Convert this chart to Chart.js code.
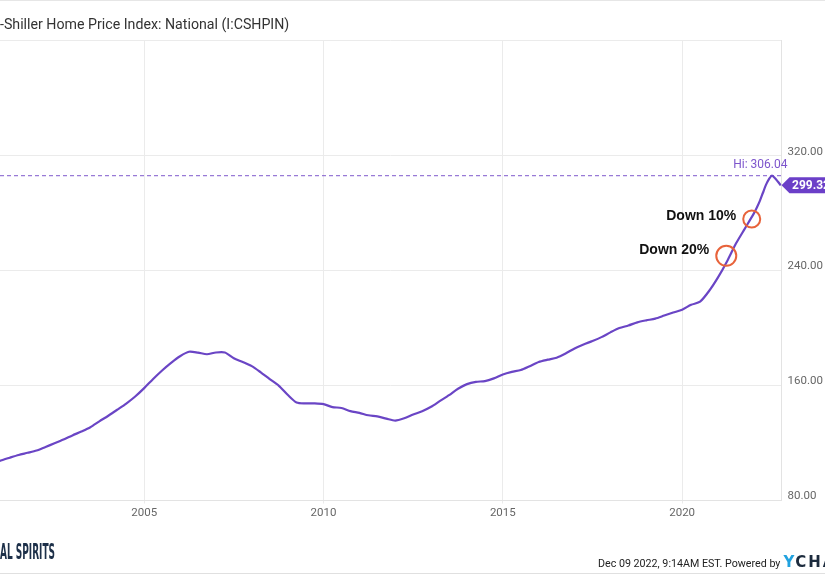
<!DOCTYPE html>
<html><head><meta charset="utf-8">
<script src="https://cdn.jsdelivr.net/npm/chart.js@4.4.0/dist/chart.umd.min.js"></script>
<style>
html,body{margin:0;padding:0;background:#fff;}
body{width:825px;height:575px;position:relative;overflow:hidden;font-family:Roboto,sans-serif;}
#wrap{position:absolute;left:0;top:0;width:825px;height:575px;}
.t{position:absolute;white-space:nowrap;}
</style></head><body>
<div class="t" style="left:0;top:0;width:825px;height:1px;background:#e6e6e6"></div>
<div id="wrap"><canvas id="c" width="825" height="575"></canvas></div>
<div class="t" id="title" style="top:14px;font-size:14.2px;line-height:20px;color:#333;">S&amp;P/Case-Shiller Home Price Index: National (I:CSHPIN)</div>
<div class="t" id="logo" style="top:540px;font-family:'DejaVu Sans Condensed',sans-serif;font-weight:bold;font-size:21px;line-height:24px;color:#1d3049;transform-origin:100% 50%;">ANIMAL SPIRITS</div>
<div class="t" id="foot" style="left:598px;top:553px;line-height:18px;font-size:10.7px;color:#222;">Dec 09 2022, 9:14AM EST. Powered by<span style="font-family:'DejaVu Sans',sans-serif;font-weight:bold;font-size:15px;color:#21a2df;letter-spacing:1px;margin-left:3px">Y</span><span style="font-family:'DejaVu Sans',sans-serif;font-weight:bold;font-size:15px;color:#1c2b3d;letter-spacing:2px">CHARTS</span></div>
<div class="t" style="left:0;top:573px;width:825px;height:1px;background:#e0e0e0"></div>
<script>
const months = ['2000-09','2000-12','2001-03','2001-06','2001-09','2001-12','2002-03','2002-06','2002-09','2002-12',
'2003-03','2003-06','2003-09','2003-12','2004-03','2004-06','2004-09','2004-12','2005-03','2005-06','2005-09','2005-12',
'2006-03','2006-06','2006-09','2006-12','2007-03','2007-06','2007-09','2007-12','2008-03','2008-06','2008-09','2008-12',
'2009-03','2009-06','2009-09','2009-12','2010-03','2010-06','2010-09','2010-12','2011-03','2011-06','2011-09','2011-12',
'2012-03','2012-06','2012-09','2012-12','2013-03','2013-06','2013-09','2013-12','2014-03','2014-06','2014-09','2014-12',
'2015-03','2015-06','2015-09','2015-12','2016-03','2016-06','2016-09','2016-12','2017-03','2017-06','2017-09','2017-12',
'2018-03','2018-06','2018-09','2018-12','2019-03','2019-06','2019-09','2019-12','2020-03','2020-06','2020-09','2020-12',
'2021-03','2021-06','2021-09','2021-12','2022-01','2022-02','2022-03','2022-04','2022-05','2022-06','2022-07','2022-08','2022-09'];
const indexValues = [105.0,107.8,109.8,111.7,113.2,114.8,117.3,119.8,122.4,125.3,
128.0,131.0,135.1,139.0,143.2,147.5,152.4,158.2,164.6,170.5,175.8,180.4,
183.5,182.9,181.8,183.0,183.0,179.0,176.4,173.5,169.2,164.5,160.0,153.6,
148.2,147.6,147.6,147.1,145.0,144.4,142.2,141.0,139.3,138.5,137.0,135.6,
137.2,139.8,142.1,145.2,149.3,153.3,157.8,161.0,162.6,163.1,165.0,167.7,
169.5,170.8,173.5,176.4,178.0,179.4,182.3,185.8,188.6,191.0,193.7,197.0,
200.0,201.8,204.0,205.4,206.6,208.7,210.8,212.8,216.2,218.4,225.8,235.3,
246.4,258.8,269.3,279.8,283.9,288.5,294.0,299.5,303.5,306.04,304.5,302.0,299.32];
const yTicks = [80,160,240,320,400];
const xTicks = [2005,2010,2015,2020];
const xRange = [2000.98, 2022.77];
const hiValue = 306.04;
const lastValue = 299.32;
const noteLabels = ['Down 10%','Down 20%'];
const noteX = [2021.94, 2021.23];
const noteY = [275.9, 250.3];

const toYear = m => { const [yy, mm] = m.split('-').map(Number); return yy + mm/12; };
const points = months.map((m,i)=>({x: toYear(m), y: indexValues[i]}));

// ---- position cropped texts ----
(function(){
  const mc = document.createElement('canvas').getContext('2d');
  mc.font = '14.2px Roboto';
  const t = document.getElementById('title');
  t.style.left = (-mc.measureText('S&P/Case').width) + 'px';
  const lg = document.getElementById('logo');
  mc.font = "bold 21px 'DejaVu Sans Condensed'";
  const full = mc.measureText('ANIMAL SPIRITS').width;
  const vis = mc.measureText('AL SPIRITS').width;
  const s = 55 / vis;
  lg.style.left = (55 - full) + 'px';
  lg.style.width = full + 'px';
  lg.style.transform = 'scaleX(' + s + ')';
})();

const overlay = {
  id: 'overlay',
  afterDatasetsDraw(chart){
    const {ctx, chartArea: ca, scales: {x, y}} = chart;
    ctx.save();
    // Hi label
    const hy = y.getPixelForValue(hiValue);
    ctx.fillStyle = '#7d55cc';
    ctx.font = '12px Roboto';
    ctx.textAlign = 'right';
    ctx.textBaseline = 'middle';
    ctx.fillText('Hi: ' + hiValue.toFixed(2), ca.right + 6, hy - 11);
    // last value badge
    const ly = y.getPixelForValue(lastValue);
    ctx.fillStyle = '#6b3fc8';
    ctx.beginPath();
    ctx.moveTo(ca.right, ly);
    ctx.lineTo(ca.right + 8, ly - 8);
    ctx.lineTo(chart.width + 5, ly - 8);
    ctx.lineTo(chart.width + 5, ly + 8);
    ctx.lineTo(ca.right + 8, ly + 8);
    ctx.closePath();
    ctx.fill();
    ctx.fillStyle = '#fff';
    ctx.font = 'bold 12px Roboto';
    ctx.textAlign = 'left';
    ctx.fillText(lastValue.toFixed(2), ca.right + 10.5, ly + 0.5);
    // annotations
    const radii = [8.5, 10];
    const dy = [-2.5, -6];
    noteLabels.forEach((lab, i) => {
      const cx = x.getPixelForValue(noteX[i]);
      const cy = y.getPixelForValue(noteY[i]);
      ctx.strokeStyle = '#e8633b';
      ctx.lineWidth = 2;
      ctx.beginPath();
      ctx.arc(cx, cy, radii[i], 0, Math.PI*2);
      ctx.stroke();
      ctx.fillStyle = '#111';
      ctx.font = 'bold 14px "Liberation Sans", Arial, sans-serif';
      ctx.textAlign = 'right';
      ctx.textBaseline = 'middle';
      ctx.fillText(lab, cx - radii[i] - 7, cy + dy[i]);
    });
    ctx.restore();
  }
};

const tickFont = {family: 'Roboto', size: 11.5};
new Chart(document.getElementById('c'), {
  type: 'line',
  data: {
    datasets: [
      {data: points, borderColor: '#6a45c5', borderWidth: 2.2, pointRadius: 0, tension: 0.25, order: 0},
      {data: [{x: xRange[0], y: hiValue}, {x: xRange[1], y: hiValue}], borderColor: '#7e58cc', borderWidth: 1,
       borderDash: [4, 3], pointRadius: 0, order: 1}
    ]
  },
  options: {
    responsive: false,
    animation: false,
    layout: {padding: {top: 40.7, left: 0, right: 0, bottom: 0}},
    plugins: {legend: {display: false}, tooltip: {enabled: false}},
    scales: {
      x: {
        type: 'linear', min: xRange[0], max: xRange[1],
        afterBuildTicks: s => { s.ticks = xTicks.map(v => ({value: v})); },
        afterFit: s => { s.height = 74.5; },
        grid: {color: '#ebebeb', tickLength: 3},
        border: {color: '#e3e3e3'},
        ticks: {color: '#666', font: tickFont, padding: 3, maxRotation: 0, autoSkip: false, callback: v => String(v)}
      },
      y: {
        position: 'right', min: 80, max: 400,
        afterBuildTicks: s => { s.ticks = yTicks.map(v => ({value: v})); },
        afterFit: s => { s.width = 43.5; },
        grid: {color: '#ebebeb', drawTicks: false},
        border: {display: true, color: '#e3e3e3'},
        ticks: {color: '#666', font: tickFont, padding: 6, labelOffset: -4,
                callback: v => v === 400 ? '' : Number(v).toFixed(2)}
      }
    }
  },
  plugins: [overlay]
});
</script>
</body></html>
